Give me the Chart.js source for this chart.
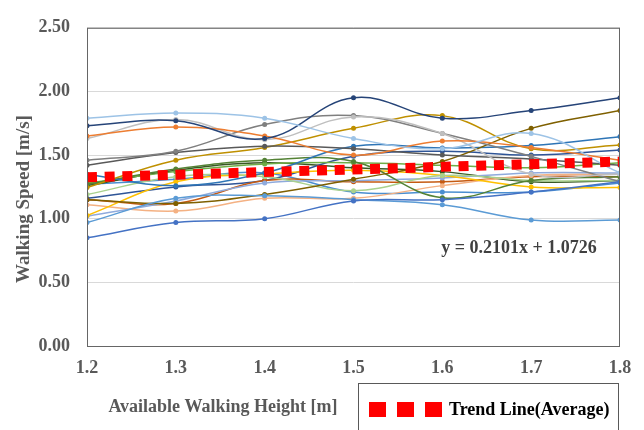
<!DOCTYPE html>
<html>
<head>
<meta charset="utf-8">
<script src="https://cdn.jsdelivr.net/npm/chart.js@4.4.1/dist/chart.umd.min.js"></script>
<style>
  html, body { margin: 0; padding: 0; background: #fff; }
</style>
</head>
<body>
<canvas id="chart" width="644" height="430"></canvas>
<script>
// x values (available walking height, m)
const heights = [1.2, 1.3, 1.4, 1.5, 1.6, 1.7, 1.8];

// walking speed per participant [m/s]
const p01 = [0.85, 0.97, 1.00, 1.14, 1.15, 1.21, 1.29];
const p02 = [0.97, 1.16, 1.18, 1.15, 1.11, 0.99, 0.99];
const p03 = [1.79, 1.83, 1.79, 1.63, 1.55, 1.67, 1.36];
const p04 = [1.73, 1.77, 1.63, 1.95, 1.79, 1.85, 1.95];
const p05 = [1.65, 1.72, 1.65, 1.50, 1.61, 1.56, 1.46];
const p06 = [1.63, 1.78, 1.62, 1.80, 1.67, 1.35, 1.35];
const p07 = [1.46, 1.53, 1.74, 1.81, 1.67, 1.49, 1.29];
const p08 = [1.42, 1.52, 1.57, 1.55, 1.50, 1.47, 1.42];
const p09 = [1.245, 1.46, 1.56, 1.71, 1.81, 1.55, 1.58];
const p10 = [1.15, 1.12, 1.19, 1.31, 1.45, 1.71, 1.85];
const p11 = [1.35, 1.26, 1.36, 1.57, 1.555, 1.575, 1.645];
const p12 = [1.27, 1.39, 1.46, 1.45, 1.165, 1.30, 1.33];
const p13 = [1.28, 1.37, 1.43, 1.44, 1.42, 1.40, 1.44];
const p14 = [1.19, 1.33, 1.33, 1.22, 1.34, 1.30, 1.30];
const p15 = [1.025, 1.29, 1.35, 1.38, 1.34, 1.25, 1.245];
const p16 = [1.02, 1.14, 1.28, 1.30, 1.32, 1.36, 1.36];
const p17 = [1.11, 1.06, 1.16, 1.16, 1.26, 1.34, 1.35];
const p18 = [1.15, 1.12, 1.30, 1.29, 1.29, 1.33, 1.33];
const p19 = [1.16, 1.25, 1.30, 1.49, 1.53, 1.50, 1.54];
const p20 = [1.26, 1.38, 1.44, 1.40, 1.37, 1.29, 1.30];
const p21 = [1.27, 1.31, 1.36, 1.21, 1.21, 1.21, 1.28];

const participants = [p01, p02, p03, p04, p05, p06, p07, p08, p09, p10, p11,
  p12, p13, p14, p15, p16, p17, p18, p19, p20, p21];
const lineColors = [
  "#4472C4", "#5B9BD5", "#9DC3E6", "#264478", "#ED7D31", "#BFBFBF", "#7F7F7F",
  "#595959", "#BF9000", "#7F6000", "#2E75B6", "#548235", "#70AD47", "#A9D18E",
  "#FFC000", "#8FAADC", "#F4B183", "#C55A11", "#2F5597", "#385723", "#4A8ED0"
];

// average trend line end points
const trendX = [1.2, 1.8];
const trendY = [1.325, 1.449];

const yTicks = [0, 0.5, 1.0, 1.5, 2.0, 2.5];

const serif = "'Liberation Serif', 'Times New Roman', serif";
const grayText = "#595959";

const datasets = [{
  label: "Trend Line(Average)",
  data: trendX.map((x, i) => ({ x: x, y: trendY[i] })),
  borderColor: "#FF0000",
  borderWidth: 10,
  borderDash: [10, 7.7],
  borderCapStyle: "butt",
  pointRadius: 0,
  tension: 0,
}];

participants.forEach((vals, i) => {
  datasets.push({
    label: "P" + (i + 1),
    data: vals.map((v, j) => ({ x: heights[j], y: v })),
    borderColor: lineColors[i],
    backgroundColor: lineColors[i],
    borderWidth: 1.5,
    pointRadius: 2.5,
    pointBorderWidth: 0,
    tension: 0.4,
  });
});

// frame, axis titles, equation and legend box
const decorations = {
  id: "decorations",
  afterDraw(chart) {
    const ctx = chart.ctx;
    const a = chart.chartArea;
    ctx.save();
    ctx.strokeStyle = "#666666";
    ctx.lineWidth = 1;
    ctx.strokeRect(a.left + 0.5, a.top + 0.5, a.right - a.left - 1, a.bottom - a.top);

    ctx.fillStyle = grayText;
    ctx.font = "bold 18px " + serif;
    ctx.textAlign = "center";
    ctx.textBaseline = "middle";
    ctx.fillText("Available Walking Height [m]", 223, 407);

    ctx.save();
    ctx.translate(24, 199);
    ctx.rotate(-Math.PI / 2);
    ctx.font = "bold 19px " + serif;
    ctx.fillText("Walking Speed [m/s]", 0, 0);
    ctx.restore();

    ctx.fillStyle = "#404040";
    ctx.font = "bold 18px " + serif;
    ctx.fillText("y = 0.2101x + 1.0726", 519, 248);

    ctx.strokeStyle = "#595959";
    ctx.strokeRect(358.5, 383.5, 260, 60);
    ctx.fillStyle = "#FF0000";
    [369, 397, 425].forEach(x => ctx.fillRect(x, 402, 17, 15));
    ctx.fillStyle = "#000000";
    ctx.textAlign = "left";
    ctx.fillText("Trend Line(Average)", 449, 410);
    ctx.restore();
  }
};

new Chart(document.getElementById("chart"), {
  type: "line",
  data: { datasets: datasets },
  plugins: [decorations],
  options: {
    responsive: false,
    animation: false,
    layout: { padding: { top: 16, right: 24, left: 0, bottom: 0 } },
    plugins: {
      legend: { display: false },
      tooltip: { enabled: false },
    },
    scales: {
      x: {
        type: "linear",
        min: 1.2,
        max: 1.8,
        afterFit: (s) => { s.height = 84; },
        afterBuildTicks: (s) => { s.ticks = heights.map(v => ({ value: v })); },
        grid: { display: false, drawTicks: false },
        border: { display: false },
        ticks: {
          color: grayText,
          font: { family: serif, size: 18, weight: "bold" },
          padding: 12,
          callback: (v) => v.toFixed(1),
        },
      },
      y: {
        min: 0,
        max: 2.5,
        afterFit: (s) => { s.width = 87; },
        afterBuildTicks: (s) => { s.ticks = yTicks.map(v => ({ value: v })); },
        grid: { color: "#D9D9D9", drawTicks: false },
        border: { display: false },
        ticks: {
          color: grayText,
          font: { family: serif, size: 18, weight: "bold" },
          padding: 17,
          callback: (v) => v.toFixed(2),
        },
      },
    },
  },
});
</script>
</body>
</html>
